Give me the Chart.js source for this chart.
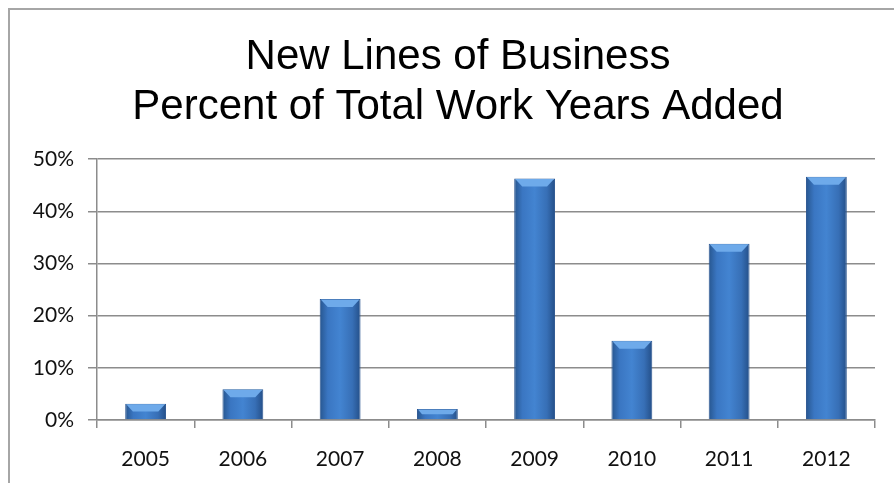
<!DOCTYPE html>
<html>
<head>
<meta charset="utf-8">
<script src="https://cdn.jsdelivr.net/npm/chart.js@4"></script>
<style>
  body { margin: 0; background: #fff; }
  #frame { position: absolute; left: 8px; top: 8px; width: 1000px; height: 600px;
           border-left: 2px solid #a6a6a6; border-top: 2px solid #a6a6a6; }
  #wrap { position: absolute; left: 0; top: 0; width: 894px; height: 483px; }
</style>
</head>
<body>
<div id="frame"></div>
<div id="wrap"><canvas id="chart" width="894" height="483"></canvas></div>
<script>
// data
const years = ['2005', '2006', '2007', '2008', '2009', '2010', '2011', '2012'];
const percentAdded = [3.1, 5.9, 23.2, 2.1, 46.3, 15.2, 33.8, 46.6];
const yTicks = [0, 10, 20, 30, 40, 50];

const BAR_PCT = 0.42;

// gradient across each bar, dark edges and lighter middle
function barFill(ctx) {
    const chart = ctx.chart;
    const xs = chart.scales.x;
    if (!xs || ctx.dataIndex === undefined) return '#3b78c4';
    const cx = xs.getPixelForValue(ctx.dataIndex);
    const w = (xs.width / years.length) * BAR_PCT;
    if (!isFinite(cx) || !isFinite(w) || w <= 0) return '#3b78c4';
    const g = chart.ctx.createLinearGradient(cx - w / 2, 0, cx + w / 2, 0);
    g.addColorStop(0, '#27568f');
    g.addColorStop(0.2, '#3a76c2');
    g.addColorStop(0.5, '#4384d1');
    g.addColorStop(0.8, '#376fb6');
    g.addColorStop(1, '#244f88');
    return g;
}

// light bevel on top of each bar
const bevel = {
    id: 'bevel',
    afterDatasetsDraw(chart) {
        const c = chart.ctx;
        chart.getDatasetMeta(0).data.forEach(bar => {
            const l = bar.x - bar.width / 2, r = bar.x + bar.width / 2, t = bar.y;
            const d = Math.min(8, (bar.base - bar.y) / 2);
            c.save();
            c.fillStyle = '#6eaaea';
            c.beginPath();
            c.moveTo(l + 1, t + 0.5);
            c.lineTo(r - 1, t + 0.5);
            c.lineTo(r - d, t + d);
            c.lineTo(l + d, t + d);
            c.closePath();
            c.fill();
            c.restore();
        });
    }
};

// title sits centred on the outer frame, not the canvas
const titleShift = {
    id: 'titleShift',
    afterLayout(chart) {
        if (chart.titleBlock) chart.titleBlock.left = 41;
    }
};

new Chart(document.getElementById('chart'), {
    type: 'bar',
    data: {
        labels: years,
        datasets: [{
            data: percentAdded,
            backgroundColor: barFill,
            borderColor: '#2a5590',
            borderWidth: 1,
            borderSkipped: 'bottom',
            barPercentage: BAR_PCT,
            categoryPercentage: 1
        }]
    },
    options: {
        responsive: false,
        animation: false,
        layout: { padding: { left: 0, right: 19, top: 0, bottom: 0 } },
        plugins: {
            legend: { display: false },
            tooltip: { enabled: false },
            title: {
                display: true,
                text: ['New Lines of Business', 'Percent of Total Work Years Added'],
                color: '#000',
                font: { family: 'Liberation Sans, Arial', size: 42, weight: 'normal', lineHeight: 1.18 },
                padding: { top: 33, bottom: 27 }
            }
        },
        scales: {
            x: {
                afterFit: s => { s.height = 63; },
                grid: {
                    offset: true,
                    drawOnChartArea: false,
                    drawTicks: true,
                    tickLength: 8,
                    color: '#8c8c8c',
                    lineWidth: 1.5
                },
                border: { display: true, color: '#8c8c8c', width: 1.5 },
                ticks: {
                    color: '#111',
                    padding: 19,
                    font: { family: 'Lato, Open Sans', size: 21 }
                }
            },
            y: {
                min: 0,
                max: 50,
                afterFit: s => { s.width = 97; },
                afterBuildTicks: s => { s.ticks = yTicks.map(v => ({ value: v })); },
                grid: {
                    color: '#8c8c8c',
                    lineWidth: 1.5,
                    tickLength: 9
                },
                border: { display: true, color: '#8c8c8c', width: 1.5 },
                ticks: {
                    color: '#111',
                    padding: 14,
                    font: { family: 'Lato, Open Sans', size: 21 },
                    callback: v => v + '%'
                }
            }
        }
    },
    plugins: [bevel, titleShift]
});
</script>
</body>
</html>
